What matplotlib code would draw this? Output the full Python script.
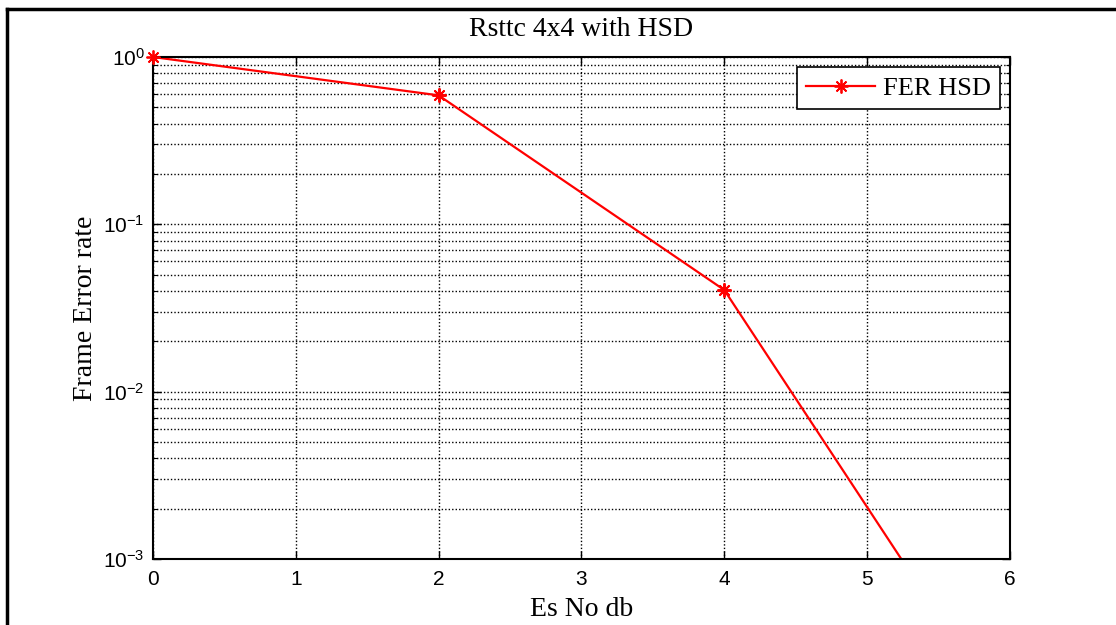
import numpy as np
import matplotlib
matplotlib.use("Agg")
import matplotlib.pyplot as plt
from matplotlib.lines import Line2D
from matplotlib.ticker import LogLocator, FixedLocator, FuncFormatter

# data
es_no_db = [0, 2, 4, 6]
fer_hsd = [1.0, 0.59, 0.0405, 1.03e-4]
x_ticks = [0, 1, 2, 3, 4, 5, 6]

serif = ['Liberation Serif', 'DejaVu Serif']
plt.rcParams['font.family'] = ['Liberation Sans', 'DejaVu Sans']
plt.rcParams['mathtext.fontset'] = 'custom'
plt.rcParams['mathtext.rm'] = 'Liberation Sans'
plt.rcParams['mathtext.it'] = 'Liberation Sans'

fig = plt.figure(figsize=(11.16, 6.25), dpi=100)
ax = fig.add_axes([0.137, 0.1056, 0.768, 0.8032])

star = (8, 2, 0)  # matlab style asterisk
ax.semilogy(es_no_db, fer_hsd, color='red', lw=1.6, label='FER HSD',
            marker=star, ms=10, mew=1.3)
# redraw the markers that sit inside the range without clipping
xs = [x for x, y in zip(es_no_db, fer_hsd) if y >= 1e-3]
ys = [y for y in fer_hsd if y >= 1e-3]
ax.plot(xs, ys, ls='none', marker=star, ms=10, mew=1.3, color='red',
        clip_on=False, zorder=5)

ax.set_xlim(0, 6)
ax.set_ylim(1e-3, 1)
ax.xaxis.set_major_locator(FixedLocator(x_ticks))
ax.yaxis.set_major_locator(LogLocator(base=10, numticks=10))
ax.yaxis.set_minor_locator(LogLocator(base=10, subs=np.arange(2, 10), numticks=10))
ax.yaxis.set_major_formatter(FuncFormatter(
    lambda v, p: r'$\mathregular{10^{%d}}$' % round(np.log10(v))))
ax.tick_params(which='both', direction='in', top=True, right=True, color='black')
ax.tick_params(which='major', length=6, width=1)
ax.tick_params(which='minor', length=3, width=0.8)
ax.tick_params(labelsize=15)
ax.tick_params(axis='x', pad=8)
ax.tick_params(axis='y', pad=6)

dots = (0, (1, 1.5))
ax.grid(True, which='major', axis='both', color='black', ls=dots, lw=1)
ax.grid(True, which='minor', axis='y', color='black', ls=dots, lw=1)
for s in ax.spines.values():
    s.set_linewidth(1.5)

ax.set_title('Rsttc 4x4 with HSD', family=serif, fontsize=20, pad=15)
ax.set_xlabel('Es No db', family=serif, fontsize=20, labelpad=6)
ax.set_ylabel('Frame Error rate', family=serif, fontsize=20, labelpad=4)

leg = ax.legend(loc='upper right', prop={'family': serif, 'size': 19},
                fancybox=False, framealpha=1, edgecolor='black',
                handlelength=2.6, handletextpad=0.3, borderpad=0.35,
                borderaxespad=0.38)
leg.get_frame().set_linewidth(1.2)

# outer border, as in the source image
fig.add_artist(Line2D([7 / 1116, 1], [1 - 9 / 625, 1 - 9 / 625], color='black', lw=2.5))
fig.add_artist(Line2D([7 / 1116, 7 / 1116], [0, 1 - 9 / 625], color='black', lw=2.5))

fig.savefig('out.png', dpi=100)
